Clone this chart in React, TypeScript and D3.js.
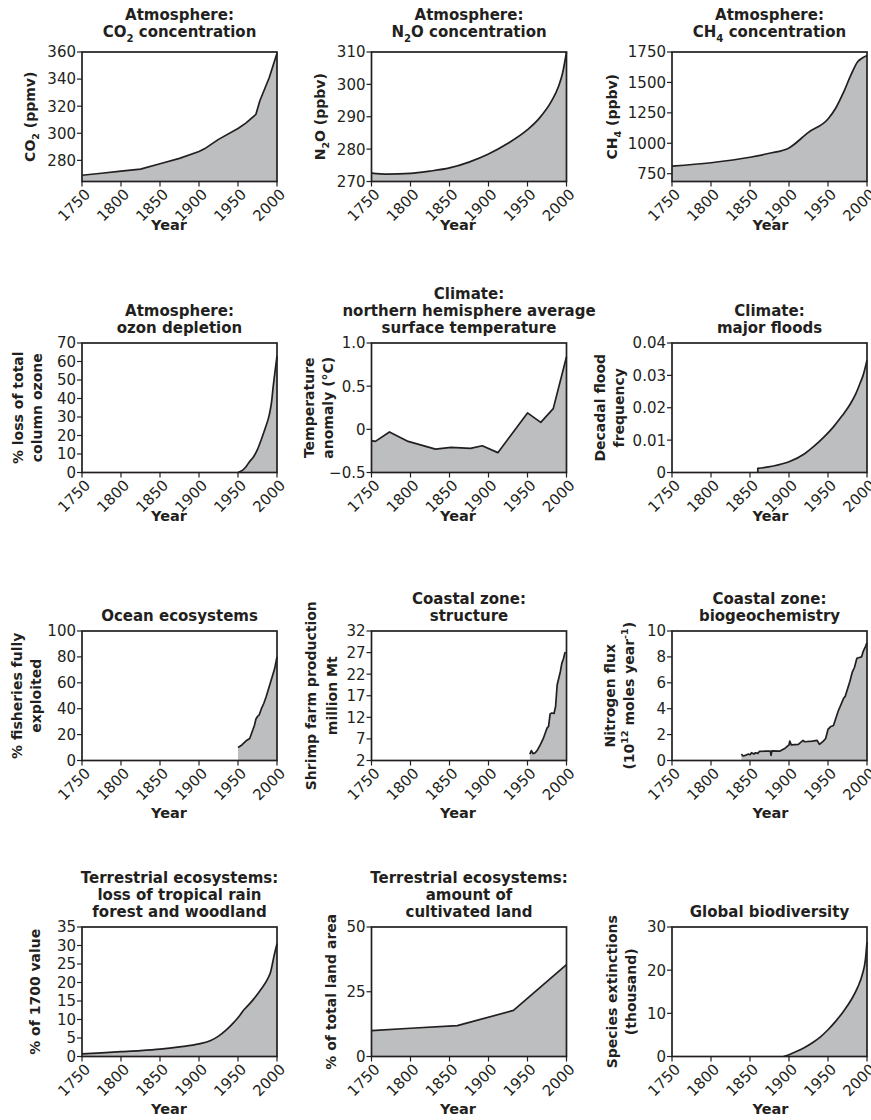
import React from "react";
import * as d3 from "d3";

// ---------- data ----------
const X_TICKS = [1750, 1800, 1850, 1900, 1950, 2000];

const co2Data: [number, number][] = [
  [1750, 269], [1775, 270.5], [1800, 272], [1825, 273.5], [1850, 277.5], [1875, 281.5],
  [1900, 286.5], [1907, 288.5], [1925, 295.5], [1950, 303.5], [1960, 307.5], [1973, 314],
  [1978, 324], [1990, 341], [2000, 359],
];
const n2oData: [number, number][] = [
  [1750, 272.6], [1770, 272.3], [1800, 272.5], [1825, 273.2], [1850, 274.2], [1875, 276],
  [1900, 278.5], [1925, 281.8], [1950, 286], [1965, 289.5], [1980, 294.5], [1990, 299.5],
  [1995, 303.5], [2000, 310],
];
const ch4Data: [number, number][] = [
  [1750, 812], [1800, 840], [1850, 885], [1875, 918], [1900, 962], [1925, 1090], [1950, 1200],
  [1960, 1290], [1970, 1420], [1980, 1570], [1988, 1670], [1995, 1705], [2000, 1722],
];
const ozoneData: [number, number][] = [
  [1950, 0], [1955, 1], [1960, 3], [1965, 6], [1970, 8.5], [1975, 12.5], [1980, 18],
  [1985, 24], [1990, 31], [1993, 38], [1995, 46], [1997, 53], [2000, 63],
];
const tempData: [number, number][] = [
  [1750, -0.13], [1755, -0.14], [1773, -0.03], [1797, -0.14], [1832, -0.23], [1852, -0.21],
  [1877, -0.22], [1892, -0.19], [1912, -0.27], [1950, 0.19], [1967, 0.08], [1983, 0.24],
  [2000, 0.84],
];
const floodData: [number, number][] = [
  [1860, 0.0013], [1880, 0.002], [1900, 0.0033], [1920, 0.0058], [1931, 0.0079],
  [1945, 0.011], [1957, 0.0141], [1968, 0.0175], [1979, 0.0213], [1986, 0.0245],
  [1991, 0.0275], [1995, 0.03], [2000, 0.0347],
];
const fisheryData: [number, number][] = [
  [1950, 10], [1955, 12], [1960, 15], [1965, 17], [1968, 22], [1971, 27], [1973, 32],
  [1975, 34], [1977, 35], [1980, 40], [1983, 44], [1986, 49], [1989, 55], [1992, 61],
  [1995, 67], [1997, 71], [2000, 80],
];
const shrimpData: [number, number][] = [
  [1953, 3.5], [1955, 4.3], [1957, 3.6], [1960, 3.8], [1963, 4.5], [1966, 5.5], [1970, 7],
  [1973, 8.5], [1975, 9.5], [1977, 9.9], [1979, 12.8], [1981, 13], [1984, 12.9], [1986, 14.5],
  [1988, 19.5], [1990, 21], [1992, 22.5], [1994, 24.5], [1996, 25.5], [1998, 27], [1999, 26.8],
];
const nitrogenData: [number, number][] = [
  [1839, 0.5], [1841, 0.35], [1845, 0.42], [1848, 0.5], [1850, 0.45], [1852, 0.6],
  [1855, 0.5], [1857, 0.6], [1860, 0.55], [1862, 0.7], [1870, 0.72], [1876, 0.72],
  [1877, 0.4], [1878, 0.75], [1888, 0.72], [1895, 0.95], [1900, 1.2], [1901, 1.5],
  [1903, 1.2], [1912, 1.25], [1918, 1.55], [1920, 1.45], [1930, 1.5], [1936, 1.55],
  [1939, 1.25], [1944, 1.5], [1947, 1.7], [1950, 2.4], [1953, 2.6], [1957, 2.7],
  [1963, 3.8], [1970, 4.8], [1972, 4.95], [1978, 6.1], [1981, 6.8], [1984, 7.2],
  [1987, 7.9], [1993, 8.0], [1995, 8.4], [1998, 8.8], [2000, 9.1],
];
const forestData: [number, number][] = [
  [1750, 0.7], [1775, 1.0], [1800, 1.3], [1825, 1.6], [1850, 2.0], [1875, 2.6], [1900, 3.4],
  [1915, 4.3], [1925, 5.5], [1935, 7.2], [1945, 9.3], [1952, 11], [1957, 12.5], [1963, 13.8],
  [1970, 15.5], [1980, 18.3], [1988, 21], [1992, 23], [1996, 27], [2000, 30.5],
];
const landData: [number, number][] = [
  [1750, 10], [1800, 10.9], [1860, 11.9], [1932, 17.8], [2000, 35.5],
];
const bioData: [number, number][] = [
  [1893, 0], [1900, 0.4], [1910, 1.2], [1920, 2.1], [1930, 3.2], [1940, 4.5], [1950, 6.2],
  [1960, 8.2], [1970, 10.5], [1980, 13.2], [1988, 16], [1994, 19], [1998, 22.5], [2000, 26.5],
];

// tick values
const co2Ticks = [280, 300, 320, 340, 360];
const n2oTicks = [270, 280, 290, 300, 310];
const ch4Ticks = [750, 1000, 1250, 1500, 1750];
const ozoneTicks = [0, 10, 20, 30, 40, 50, 60, 70];
const tempTicks = [-0.5, 0, 0.5, 1.0];
const floodTicks = [0, 0.01, 0.02, 0.03, 0.04];
const fisheryTicks = [0, 20, 40, 60, 80, 100];
const shrimpTicks = [2, 7, 12, 17, 22, 27, 32];
const nitrogenTicks = [0, 2, 4, 6, 8, 10];
const forestTicks = [0, 5, 10, 15, 20, 25, 30, 35];
const landTicks = [0, 25, 50];
const bioTicks = [0, 10, 20, 30];

// ---------- layout ----------
const COL_LEFT = [82, 371.5, 672];
const ROW_TOP = [52, 343, 631, 927];
const PW = 195;
const PH = 129.5;
const INK = "#231f20";
const FILL = "#bdbec0";
const BOLD = "'DejaVu Sans', sans-serif";

type Panel = {
  col: number;
  row: number;
  title: string[];
  ylabel: string[];
  yDomain: [number, number];
  yTicks: number[];
  yFmt: (v: number) => string;
  data: [number, number][];
  curve: d3.CurveFactory;
  startStroke?: boolean;
  yLabOff: number;
  yLabGap?: number;
};

const plain = (v: number) => String(v);

const panels: Panel[] = [
  { col: 0, row: 0, title: ["Atmosphere:", "CO~2~ concentration"], ylabel: ["CO~2~ (ppmv)"],
    yDomain: [264.4, 360], yTicks: co2Ticks, yFmt: plain, data: co2Data, curve: d3.curveLinear, yLabOff: 47 },
  { col: 1, row: 0, title: ["Atmosphere:", "N~2~O concentration"], ylabel: ["N~2~O (ppbv)"],
    yDomain: [270, 310], yTicks: n2oTicks, yFmt: plain, data: n2oData, curve: d3.curveMonotoneX, yLabOff: 47 },
  { col: 2, row: 0, title: ["Atmosphere:", "CH~4~ concentration"], ylabel: ["CH~4~ (ppbv)"],
    yDomain: [686, 1750], yTicks: ch4Ticks, yFmt: plain, data: ch4Data, curve: d3.curveMonotoneX, yLabOff: 55 },
  { col: 0, row: 1, title: ["Atmosphere:", "ozon depletion"], ylabel: ["% loss of total", "column ozone"],
    yDomain: [0, 70], yTicks: ozoneTicks, yFmt: plain, data: ozoneData, curve: d3.curveMonotoneX, yLabOff: 40 },
  { col: 1, row: 1, title: ["Climate:", "northern hemisphere average", "surface temperature"],
    ylabel: ["Temperature", "anomaly (°C)"], yDomain: [-0.5, 1.0], yTicks: tempTicks,
    yFmt: (v) => (v === 0 ? "0" : d3.format(".1f")(v)), data: tempData, curve: d3.curveLinear, yLabOff: 39 },
  { col: 2, row: 1, title: ["Climate:", "major floods"], ylabel: ["Decadal flood", "frequency"],
    yDomain: [0, 0.04], yTicks: floodTicks, yFmt: (v) => (v === 0 ? "0" : d3.format(".2f")(v)),
    data: floodData, curve: d3.curveMonotoneX, startStroke: true, yLabOff: 48 },
  { col: 0, row: 2, title: ["Ocean ecosystems"], ylabel: ["% fisheries fully", "exploited"],
    yDomain: [0, 100], yTicks: fisheryTicks, yFmt: plain, data: fisheryData, curve: d3.curveLinear, yLabOff: 41 },
  { col: 1, row: 2, title: ["Coastal zone:", "structure"], ylabel: ["Shrimp farm production", "million Mt"],
    yDomain: [2, 32], yTicks: shrimpTicks, yFmt: plain, data: shrimpData, curve: d3.curveLinear, yLabOff: 35, yLabGap: 21 },
  { col: 2, row: 2, title: ["Coastal zone:", "biogeochemistry"], ylabel: ["Nitrogen flux", "(10^12^ moles year^-1^)"],
    yDomain: [0, 10], yTicks: nitrogenTicks, yFmt: plain, data: nitrogenData, curve: d3.curveLinear, yLabOff: 38 },
  { col: 0, row: 3, title: ["Terrestrial ecosystems:", "loss of tropical rain", "forest and woodland"],
    ylabel: ["% of 1700 value"], yDomain: [0, 35], yTicks: forestTicks, yFmt: plain, data: forestData,
    curve: d3.curveMonotoneX, yLabOff: 42 },
  { col: 1, row: 3, title: ["Terrestrial ecosystems:", "amount of", "cultivated land"],
    ylabel: ["% of total land area"], yDomain: [0, 50], yTicks: landTicks, yFmt: plain, data: landData,
    curve: d3.curveLinear, yLabOff: 36 },
  { col: 2, row: 3, title: ["Global biodiversity"], ylabel: ["Species extinctions", "(thousand)"],
    yDomain: [0, 30], yTicks: bioTicks, yFmt: plain, data: bioData, curve: d3.curveMonotoneX, yLabOff: 36 },
];

// rich text: ~sub~ and ^sup^
function Rich({ s, size }: { s: string; size: number }) {
  const parts = s.split(/(~[^~]+~|\^[^^]+\^)/).filter((p) => p.length > 0);
  let shift = 0;
  return (
    <>
      {parts.map((p, i) => {
        const sub = p.startsWith("~");
        const sup = p.startsWith("^");
        const txt = sub || sup ? p.slice(1, -1) : p;
        const target = sub ? size * 0.3 : sup ? -size * 0.4 : 0;
        const dy = target - shift;
        shift = target;
        return (
          <tspan key={i} dy={dy} fontSize={sub || sup ? size * 0.68 : size}>
            {txt}
          </tspan>
        );
      })}
    </>
  );
}

function PanelView({ p }: { p: Panel }) {
  const left = COL_LEFT[p.col];
  const top = ROW_TOP[p.row];
  const x = d3.scaleLinear().domain([1750, 2000]).range([left, left + PW]);
  const y = d3.scaleLinear().domain(p.yDomain).range([top + PH, top]);
  const bottom = top + PH;
  const area = d3
    .area<[number, number]>()
    .x((d) => x(d[0]))
    .y0(y(p.yDomain[0]))
    .y1((d) => y(d[1]))
    .curve(p.curve)(p.data) as string;
  let linePath = d3
    .line<[number, number]>()
    .x((d) => x(d[0]))
    .y((d) => y(d[1]))
    .curve(p.curve)(p.data) as string;
  if (p.startStroke) {
    linePath = `M${x(p.data[0][0])},${y(p.yDomain[0])}` + linePath.replace(/^M/, "L");
  }

  const titleLast = p.row === 0 ? top - 15 : top - 10;
  const tl = p.title.length;
  const gap = p.yLabGap ?? 19;
  const nY = p.ylabel.length;
  const cy = top + PH / 2;
  const xLabDx = [-10.5, -11, 1][p.col];
  const xLabOff = p.row < 2 ? 48 : 57;

  return (
    <g>
      {/* titles */}
      {p.title.map((t, i) => (
        <text
          key={"t" + i}
          x={left + PW / 2}
          y={titleLast - (tl - 1 - i) * 17}
          textAnchor="middle"
          fontFamily={BOLD}
          fontWeight="bold"
          fontSize={15}
          fill={INK}
        >
          <Rich s={t} size={15} />
        </text>
      ))}
      {/* area + line */}
      <path d={area} fill={FILL} stroke="none" />
      <path d={linePath} fill="none" stroke={INK} strokeWidth={1.7} strokeLinejoin="round" />
      {/* frame */}
      <rect x={left} y={top} width={PW} height={PH} fill="none" stroke={INK} strokeWidth={1.7} />
      {/* y ticks */}
      {p.yTicks.map((v) => (
        <g key={"y" + v}>
          <line x1={left - 5} x2={left} y1={y(v)} y2={y(v)} stroke={INK} strokeWidth={1.2} />
          <text
            x={left - 6}
            y={y(v)}
            dy="0.36em"
            textAnchor="end"
            fontFamily="'DejaVu Sans', sans-serif"
            fontSize={15}
            fill={INK}
          >
            {p.yFmt(v)}
          </text>
        </g>
      ))}
      {/* x ticks */}
      {X_TICKS.map((v) => (
        <g key={"x" + v}>
          <line x1={x(v)} x2={x(v)} y1={bottom} y2={bottom + 5} stroke={INK} strokeWidth={1.2} />
          <text
            transform={`translate(${x(v) + 5.5},${bottom + 10}) rotate(-45)`}
            dy="0.36em"
            textAnchor="end"
            fontFamily="'DejaVu Sans', sans-serif"
            fontSize={15}
            fill={INK}
          >
            {v}
          </text>
        </g>
      ))}
      {/* x label */}
      <text
        x={left + PW / 2 + xLabDx}
        y={bottom + xLabOff}
        textAnchor="middle"
        fontFamily={BOLD}
        fontWeight="bold"
        fontSize={14.5}
        fill={INK}
      >
        Year
      </text>
      {/* y label */}
      {p.ylabel.map((t, i) => (
        <text
          key={"yl" + i}
          transform={`translate(${left - p.yLabOff - (nY - 1 - i) * gap},${cy}) rotate(-90)`}
          textAnchor="middle"
          fontFamily={BOLD}
          fontWeight="bold"
          fontSize={14}
          fill={INK}
        >
          <Rich s={t} size={14} />
        </text>
      ))}
    </g>
  );
}

export default function App() {
  return (
    <svg
      width={871}
      height={1120}
      viewBox="0 0 871 1120"
      style={{ position: "absolute", left: 0, top: 0, background: "#fff" }}
    >
      <rect width={871} height={1120} fill="#fff" />
      {panels.map((p, i) => (
        <PanelView key={i} p={p} />
      ))}
    </svg>
  );
}
